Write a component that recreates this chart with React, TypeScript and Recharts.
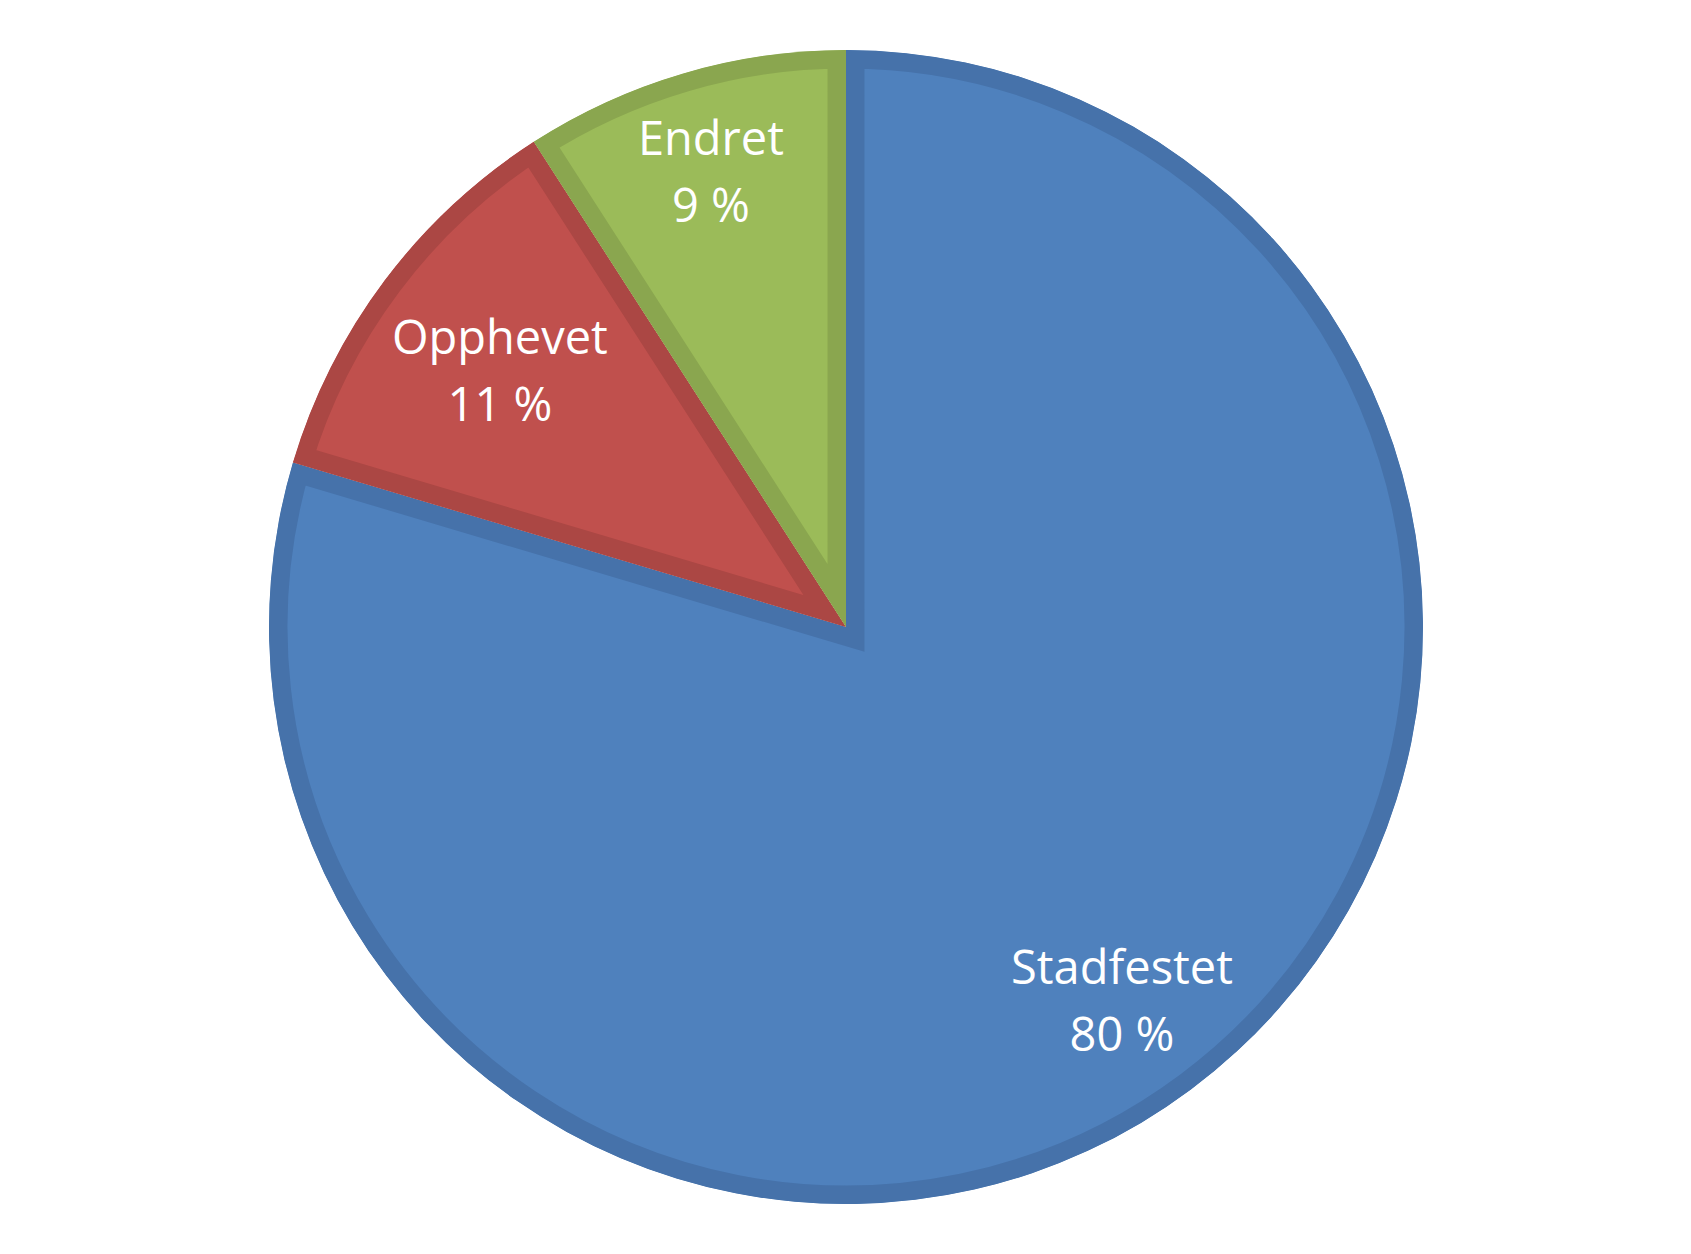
import React from "react";
import { PieChart, Pie, Cell, Sector } from "recharts";

const categories = ["Stadfestet", "Opphevet", "Endret"];
const shares = [79.6, 11.3, 9.1];

const fills = ["#4F81BD", "#C0504D", "#9BBB59"];
const strokes = ["#4672AA", "#AB4744", "#8AA64F"];
const labelRadius = [0.8, 0.75, 0.83];

const data = categories.map((name, i) => ({ name, value: shares[i] }));

const RAD = Math.PI / 180;

const renderShape = (props: any) => {
  const { cx, cy, innerRadius, outerRadius, startAngle, endAngle } = props;
  const name = props.payload?.name ?? props.name;
  const i = categories.indexOf(name);
  const id = `clip-slice-${i}`;
  const geo = { cx, cy, innerRadius, outerRadius, startAngle, endAngle };
  return (
    <g>
      <defs>
        <clipPath id={id}>
          <Sector {...geo} />
        </clipPath>
      </defs>
      <Sector
        {...geo}
        fill={fills[i]}
        stroke={strokes[i]}
        strokeWidth={37}
        strokeLinejoin="miter"
        strokeMiterlimit={10}
        clipPath={`url(#${id})`}
      />
    </g>
  );
};

const renderLabel = (props: any) => {
  const { cx, cy, midAngle, outerRadius, value } = props;
  const name = props.payload?.name ?? props.name;
  const i = categories.indexOf(name);
  const r = outerRadius * labelRadius[i];
  const x = cx + r * Math.cos(-midAngle * RAD);
  const y = cy + r * Math.sin(-midAngle * RAD);
  return (
    <text
      x={x}
      y={y}
      fill="#FFFFFF"
      textAnchor="middle"
      fontFamily="'Open Sans', sans-serif"
      fontSize={47}
    >
      <tspan x={x} y={y - 13}>{name}</tspan>
      <tspan x={x} y={y + 54}>{`${Math.round(value)} %`}</tspan>
    </text>
  );
};

export default function App() {
  return (
    <div style={{ position: "absolute", left: 0, top: 0, width: 1691, height: 1254, background: "#FFFFFF" }}>
      <PieChart width={1691} height={1254} margin={{ top: 0, right: 0, bottom: 0, left: 0 }}>
        <Pie
          data={data}
          dataKey="value"
          nameKey="name"
          cx={846}
          cy={627}
          innerRadius={0}
          outerRadius={577}
          startAngle={90}
          endAngle={-270}
          stroke="none"
          shape={renderShape}
          label={renderLabel}
          labelLine={false}
          isAnimationActive={false}
        >
          {data.map((d, i) => (
            <Cell key={d.name} fill={fills[i]} />
          ))}
        </Pie>
      </PieChart>
    </div>
  );
}
